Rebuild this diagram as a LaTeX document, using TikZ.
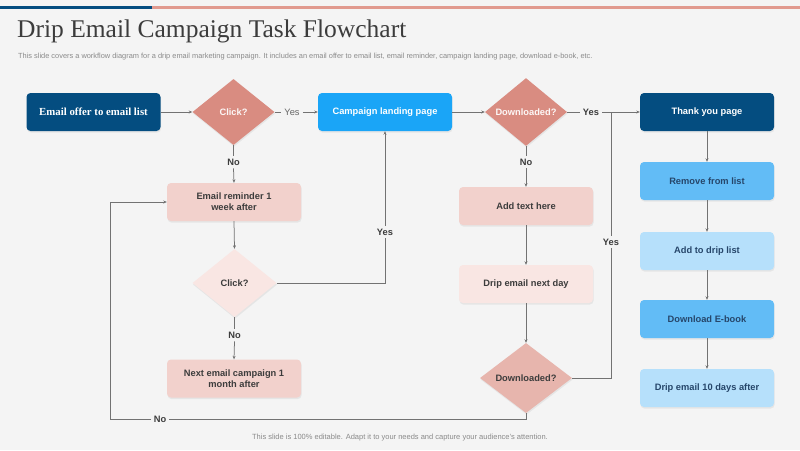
\documentclass[tikz,border=0pt]{standalone}
\usepackage{fontspec}
\setmainfont{Liberation Sans}
\newfontfamily\titlefont{Liberation Serif}
\usetikzlibrary{shapes.geometric,arrows.meta,shadows}
\definecolor{bgc}{HTML}{F4F4F4}
\definecolor{dblue}{HTML}{044D80}
\definecolor{bblue}{HTML}{1AA5F7}
\definecolor{mblue}{HTML}{62BCF6}
\definecolor{lblue}{HTML}{B6E0FB}
\definecolor{salm}{HTML}{D98C81}
\definecolor{pinkb}{HTML}{F2D1CC}
\definecolor{vlpink}{HTML}{F9E6E3}
\definecolor{dlpink}{HTML}{E7B5AD}
\definecolor{txtd}{HTML}{3C3C3C}
\definecolor{txtb}{HTML}{26466A}
\definecolor{linec}{HTML}{727272}
\definecolor{barsal}{HTML}{E19A8F}
\definecolor{subg}{HTML}{8A8A8A}
\tikzset{
  boxn/.style={rectangle, rounded corners=4pt, minimum width=134pt, minimum height=38pt,
    inner sep=2pt, align=center, font=\fontsize{9.3}{11.3}\selectfont\bfseries,
    drop shadow={opacity=0.12, shadow xshift=0.6pt, shadow yshift=-1.6pt}},
  dia/.style={diamond, inner sep=0pt, minimum width=82pt, minimum height=66pt,
    font=\fontsize{9.3}{11}\selectfont\bfseries,
    drop shadow={opacity=0.12, shadow xshift=0.6pt, shadow yshift=-1.6pt}},
  lab/.style={inner sep=3pt, text=txtd, font=\fontsize{9.3}{11}\selectfont\bfseries},
  labr/.style={inner sep=3pt, text=linec!90!black, font=\fontsize{9.3}{11}\selectfont},
  conn/.style={draw=linec, line width=0.75pt},
  arr/.style={conn, -{Stealth[length=3.5pt,width=3pt]}}
}
\begin{document}
\begin{tikzpicture}[x=1pt,y=-1pt]
\useasboundingbox (0,0) rectangle (800,450);
\fill[bgc] (0,0) rectangle (800,450);
% top bar
\fill[dblue] (0,5.5) rectangle (152,8.5);
\fill[barsal] (152,5.5) rectangle (800,8.5);
% title
\node[anchor=west, inner sep=0pt, text=txtd] (title) at (17,31)
  {\titlefont\fontsize{25.5}{29}\selectfont Drip Email Campaign Task Flowchart};
\node[anchor=west, inner sep=0pt, text=subg] (sub) at (18,57)
  {\fontsize{7.4}{9}\selectfont This slide covers a workflow diagram for a drip email marketing campaign. It includes an email offer to email list, email reminder, campaign landing page, download e-book, etc.};
\node[inner sep=0pt, text=subg] (foot) at (400,438)
  {\fontsize{7.5}{9}\selectfont This slide is 100\% editable. Adapt it to your needs and capture your audience’s attention.};

% nodes
\node[boxn, fill=dblue, text=white, font=\titlefont\fontsize{10.8}{12}\selectfont\bfseries] (offer) at (93.5,112) {Email offer to email list};
\node[dia, fill=salm, text=white!93!salm] (click1) at (233.5,112) {Click?};
\node[boxn, fill=bblue, text=white] (land) at (385,112) {Campaign landing page};
\node[dia, fill=salm, text=white!93!salm] (dl1) at (526,112) {Downloaded?};
\node[boxn, fill=dblue, text=white] (thank) at (707,112) {Thank you page};
\node[boxn, fill=mblue, text=txtb] (remove) at (707,181) {Remove from list};
\node[boxn, fill=lblue, text=txtb] (drip) at (707,251) {Add  to drip list};
\node[boxn, fill=mblue, text=txtb] (ebook) at (707,319) {Download E-book};
\node[boxn, fill=lblue, text=txtb] (drip10) at (707,388) {Drip email  10 days after};

\node[boxn, fill=pinkb, text=txtd] (rem) at (234,202) {Email reminder 1\\week after};
\node[dia, fill=vlpink, text=txtd, minimum width=84pt, minimum height=68pt] (click2) at (234.5,283) {Click?};
\node[boxn, fill=pinkb, text=txtd] (next) at (234,378.5) {Next email campaign  1\\month after};

\node[boxn, fill=pinkb, text=txtd] (add) at (526,206) {Add  text here};
\node[boxn, fill=vlpink, text=txtd] (nday) at (526,284) {Drip email  next day};
\node[dia, fill=dlpink, text=txtd, minimum width=92pt, minimum height=70pt] (dl2) at (526,378) {Downloaded?};

% labels
\node[labr] (yes1) at (292,112) {Yes};
\node[lab] (yes2) at (591,112) {Yes};
\node[lab] (no1) at (233.5,162) {No};
\node[lab] (no2) at (234.5,335) {No};
\node[lab] (no3) at (526,162) {No};
\node[lab] (yes3) at (385,232) {Yes};
\node[lab] (yes4) at (611,242) {Yes};
\node[lab] (no4) at (160,419) {No};
\coordinate (loopc) at (110,419);

% connectors
\draw[arr] (offer.east) -- (click1.west);
\draw[conn] (click1.east) -- (yes1.west);
\draw[arr] (yes1.east) -- (land.west);
\draw[arr] (land.east) -- (dl1.west);
\draw[conn] (dl1.east) -- (yes2.west);
\draw[arr] (yes2.east) -- (thank.west);
\draw[arr] (thank.south) -- (remove.north);
\draw[arr] (remove.south) -- (drip.north);
\draw[arr] (drip.south) -- (ebook.north);
\draw[arr] (ebook.south) -- (drip10.north);

\draw[conn] (click1.south) -- (no1.north);
\draw[arr] (no1.south) -- (rem.north);
\draw[arr] (rem.south) -- (click2.north);
\draw[conn] (click2.south) -- (no2.north);
\draw[arr] (no2.south) -- (next.north);
\draw[conn] (click2.east) -| (yes3.south);
\draw[arr] (yes3.north) -- (land.south);

\draw[conn] (dl1.south) -- (no3.north);
\draw[arr] (no3.south) -- (add.north);
\draw[arr] (add.south) -- (nday.north);
\draw[arr] (nday.south) -- (dl2.north);
\draw[conn] (dl2.east) -| (yes4.south);
\draw[conn] (yes4.north) -- (yes4.north |- thank.west);

\draw[conn] (dl2.south) |- (no4.east);
\draw[arr] (no4.west) -- (loopc) |- (rem.west);
\end{tikzpicture}
\end{document}
